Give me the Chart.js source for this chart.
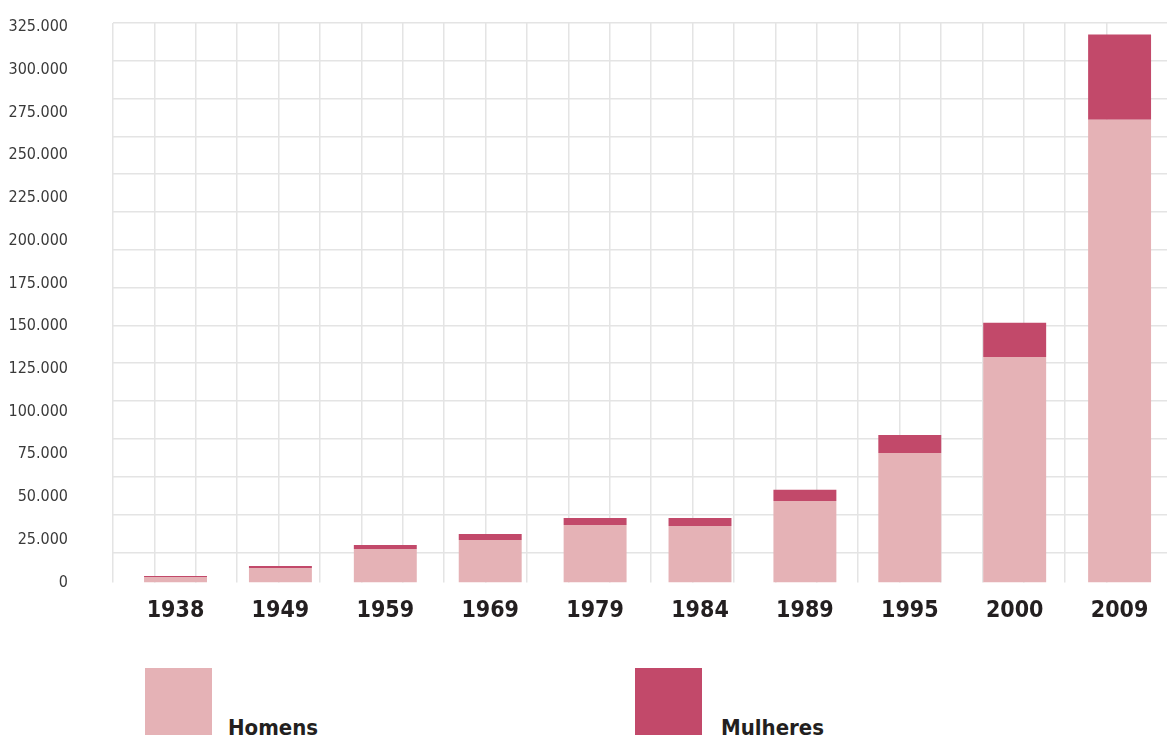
<!DOCTYPE html>
<html>
<head>
<meta charset="utf-8">
<script src="https://cdn.jsdelivr.net/npm/chart.js@4/dist/chart.umd.min.js"></script>
<style>
  body { margin: 0; background: #fff; overflow: hidden; }
  #wrap { position: relative; width: 1167px; height: 738px; }
  #chart { position: absolute; left: 0; top: 0; }
  .legend-item { position: absolute; top: 668px; height: 67px; }
  .legend-box { position: absolute; left: 0; top: 0; width: 67px; height: 67px; }
  .legend-text { position: absolute; bottom: -5px; white-space: nowrap; color: #231f20;
    font: bold 22px "DejaVu Sans Condensed", "Liberation Sans Narrow", sans-serif; }
</style>
</head>
<body>
<div id="wrap">
  <canvas id="chart" width="1167" height="650"></canvas>
  <div id="legend"></div>
</div>
<script>
const years = ['1938', '1949', '1959', '1969', '1979', '1984', '1989', '1995', '2000', '2009'];
const homens = [3200, 8500, 19600, 24900, 33700, 33100, 47700, 75800, 132000, 270800];
const mulheres = [600, 1100, 2300, 3500, 4100, 4700, 6500, 10500, 20000, 49800];
const yTicks = [0, 25000, 50000, 75000, 100000, 125000, 150000, 175000, 200000, 225000, 250000, 275000, 300000, 325000];

const narrow = '"DejaVu Sans Condensed", "Liberation Sans Narrow", sans-serif';
const gridColor = '#e4e4e4';

function toPoints(values) {
    return values.map((v, i) => ({ x: i, y: v }));
}

function formatThousands(v) {
    return String(v).replace(/\B(?=(\d{3})+(?!\d))/g, '.');
}

// fixed box sizes, no label overhang padding
function fixSize(w, h) {
    return scale => {
        if (w !== null) scale.width = w;
        if (h !== null) scale.height = h;
        scale.paddingTop = 0;
        scale.paddingBottom = 0;
        scale.paddingLeft = 0;
        scale.paddingRight = 0;
    };
}

const datasets = [
    { label: 'Homens', data: toPoints(homens), backgroundColor: '#e5b2b6' },
    { label: 'Mulheres', data: toPoints(mulheres), backgroundColor: '#c2496a' }
];

const ctx = document.getElementById('chart').getContext('2d');
const chart = new Chart(ctx, {
    type: 'bar',
    data: { datasets: datasets },
    options: {
        responsive: false,
        animation: false,
        devicePixelRatio: 1,
        layout: { padding: { top: 23, left: 0, right: 0, bottom: 0 } },
        datasets: { bar: { barPercentage: 1, categoryPercentage: 0.6, borderWidth: 0 } },
        plugins: { legend: { display: false }, tooltip: { enabled: false } },
        scales: {
            x: {
                type: 'linear',
                stacked: true,
                offset: false,
                min: -0.596,
                max: 9.452,
                grid: { display: false, drawTicks: false, offset: false },
                border: { display: false },
                afterBuildTicks: scale => {
                    scale.ticks = years.map((y, i) => ({ value: i }));
                },
                afterFit: fixSize(null, 67.5),
                ticks: {
                    padding: 15,
                    maxRotation: 0,
                    autoSkip: false,
                    color: '#231f20',
                    font: { family: narrow, size: 23, weight: 'bold' },
                    callback: v => years[v]
                }
            },
            y: {
                stacked: true,
                min: 0,
                max: 327340,
                grid: { display: false, drawTicks: false },
                border: { display: false },
                afterBuildTicks: scale => {
                    scale.ticks = yTicks.map(v => ({ value: v }));
                },
                afterFit: fixSize(113, null),
                ticks: {
                    padding: 45,
                    autoSkip: false,
                    color: '#3a3a3a',
                    font: { family: narrow, size: 16 },
                    callback: v => formatThousands(v)
                }
            },
            // background grid, not tied to the value ticks
            xGrid: {
                type: 'linear',
                position: 'top',
                offset: false,
                min: 0,
                max: 25.46,
                grid: { color: gridColor, lineWidth: 1.5, drawTicks: false, offset: false },
                border: { display: false },
                afterBuildTicks: scale => {
                    scale.ticks = scale.ticks.filter(t => Number.isInteger(t.value));
                },
                afterFit: fixSize(null, 0),
                ticks: { display: false, stepSize: 1 }
            },
            yGrid: {
                type: 'linear',
                position: 'right',
                reverse: true,
                min: 0,
                max: 14.8,
                grid: { color: gridColor, lineWidth: 1.5, drawTicks: false },
                border: { display: false },
                afterBuildTicks: scale => {
                    scale.ticks = scale.ticks.filter(t => Number.isInteger(t.value));
                },
                afterFit: fixSize(0, null),
                ticks: { display: false, stepSize: 1 }
            }
        }
    }
});

// legend built from the datasets
const legendPos = [{ box: 145, text: 228 }, { box: 635, text: 721 }];
const legend = document.getElementById('legend');
datasets.forEach((ds, i) => {
    const item = document.createElement('div');
    item.className = 'legend-item';
    item.style.left = legendPos[i].box + 'px';
    item.innerHTML = `<div class="legend-box" style="background:${ds.backgroundColor}"></div>` +
        `<div class="legend-text" style="left:${legendPos[i].text - legendPos[i].box}px">${ds.label}</div>`;
    legend.appendChild(item);
});
</script>
</body>
</html>
